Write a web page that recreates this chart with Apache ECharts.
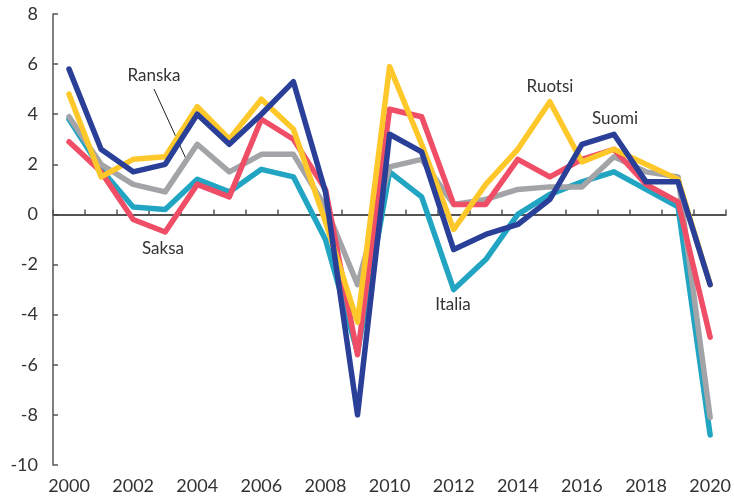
<!DOCTYPE html>
<html>
<head>
<meta charset="utf-8">
<script src="https://cdn.jsdelivr.net/npm/echarts@6/dist/echarts.min.js"></script>
<style>
html,body{margin:0;padding:0;background:#fff;}
#chart{width:734px;height:497px;}
</style>
</head>
<body>
<div id="chart"></div>
<script>
var years = ['2000','2001','2002','2003','2004','2005','2006','2007','2008','2009','2010','2011','2012','2013','2014','2015','2016','2017','2018','2019','2020'];
var italia = [3.8, 1.8, 0.3, 0.2, 1.4, 0.9, 1.8, 1.5, -1.0, -5.5, 1.7, 0.7, -3.0, -1.8, 0.0, 0.8, 1.3, 1.7, 1.0, 0.3, -8.8];
var ranska = [3.9, 2.0, 1.2, 0.9, 2.8, 1.7, 2.4, 2.4, 0.3, -2.8, 1.9, 2.2, 0.4, 0.6, 1.0, 1.1, 1.1, 2.3, 1.7, 1.5, -8.1];
var saksa  = [2.9, 1.7, -0.2, -0.7, 1.2, 0.7, 3.8, 3.0, 1.0, -5.6, 4.2, 3.9, 0.4, 0.4, 2.2, 1.5, 2.2, 2.6, 1.2, 0.5, -4.9];
var ruotsi = [4.8, 1.5, 2.2, 2.3, 4.3, 3.0, 4.6, 3.4, -0.3, -4.3, 5.9, 2.8, -0.6, 1.2, 2.6, 4.5, 2.1, 2.6, 2.0, 1.4, -2.8];
var suomi  = [5.8, 2.6, 1.7, 2.0, 4.0, 2.8, 4.0, 5.3, 0.9, -8.0, 3.2, 2.5, -1.4, -0.8, -0.4, 0.6, 2.8, 3.2, 1.3, 1.3, -2.8];
var yTicks = [-10, -8, -6, -4, -2, 0, 2, 4, 6, 8];

var seriesDefs = [
  {name:'Italia', data:italia, color:'#21a5c2'},
  {name:'Ranska', data:ranska, color:'#a2a4a7'},
  {name:'Saksa', data:saksa, color:'#ef4e66'},
  {name:'Ruotsi', data:ruotsi, color:'#fec82b'},
  {name:'Suomi', data:suomi, color:'#2a3f98'}
];

var FONT = 'Lato';
var chart = echarts.init(document.getElementById('chart'), null, {renderer:'canvas'});
var series = seriesDefs.map(function(s, i){
  return {
    name: s.name, type:'line', data:s.data, symbol:'none', animation:false,
    z: 2 + i,
    lineStyle:{color:s.color, width:5.5, cap:'round', join:'round'}
  };
});
series[0].markLine = {
  silent:true, symbol:'none', animation:false,
  label:{show:false},
  lineStyle:{color:'#444', width:1.5, type:'solid'},
  data:[{yAxis:0}],
  z:1
};

function label(txt, x, y){
  return {type:'text', x:x, y:y, style:{text:txt, fill:'#333', font:'17px '+FONT, textAlign:'center', textVerticalAlign:'middle'}};
}

chart.setOption({
  backgroundColor:'#fff',
  animation:false,
  grid:{left:53, right:7, top:14, bottom:32, containLabel:false},
  xAxis:{
    type:'category', data:years, boundaryGap:true,
    axisLine:{lineStyle:{color:'#555', width:1.5}},
    axisTick:{show:true, inside:true, length:5, interval:0, lineStyle:{color:'#555', width:1.5}},
    axisLabel:{interval:1, color:'#333', fontSize:18, fontFamily:FONT, margin:12},
    splitLine:{show:false}
  },
  yAxis:{
    type:'value', min:yTicks[0], max:yTicks[yTicks.length-1], interval:2,
    axisLine:{show:true, lineStyle:{color:'#555', width:1.5}},
    axisTick:{show:true, inside:true, length:5, lineStyle:{color:'#555', width:1.5}},
    axisLabel:{color:'#333', fontSize:18, fontFamily:FONT, margin:15},
    splitLine:{show:false}
  },
  series: series,
  graphic:[
    label('Ranska', 154, 76),
    {type:'line', shape:{x1:154, y1:89, x2:187, y2:161}, style:{stroke:'#222', lineWidth:1}},
    label('Saksa', 163, 249),
    label('Italia', 453, 305),
    label('Ruotsi', 550, 87),
    label('Suomi', 615, 119)
  ]
});
</script>
</body>
</html>
